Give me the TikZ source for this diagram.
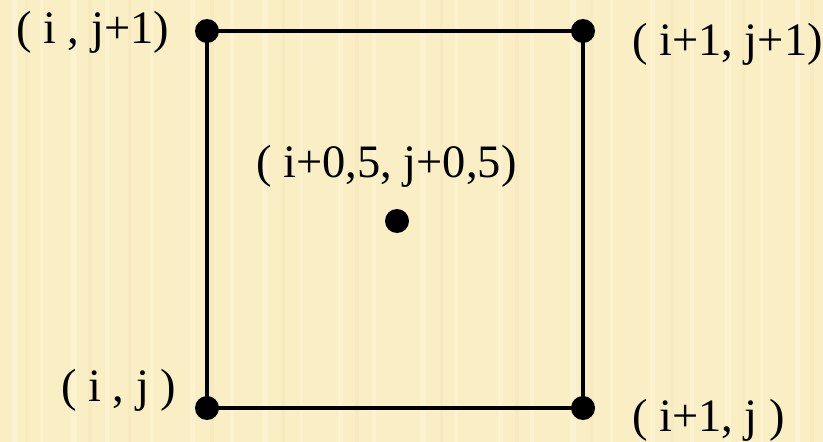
\documentclass[tikz,border=0pt]{standalone}
\usepackage{fontspec}
\setmainfont{Liberation Serif}
\definecolor{bgyellow}{RGB}{250,238,196}
\definecolor{bgstripe}{RGB}{252,242,208}
\definecolor{bgdark}{RGB}{247,234,190}
\begin{document}
\begin{tikzpicture}[x=1pt,y=-1pt,
  dotnode/.style={circle,fill=black,inner sep=0pt,minimum size=24pt},
  lbl/.style={anchor=base west,inner sep=0pt,font=\fontsize{46.5}{56}\selectfont},
  edge/.style={line width=4pt}]
\useasboundingbox (0,0) rectangle (823,442);
\fill[bgyellow] (0,0) rectangle (823,442);
\foreach \x/\w in {12/5,40/3,71/6,105/4,150/3,190/5,230/4,262/6,300/3,338/5,372/4,420/6,455/3,498/5,530/4,570/6,610/3,650/5,690/4,725/6,760/3,795/5}{
  \fill[bgstripe] (\x,0) rectangle ({\x+\w},442);
}
\foreach \x/\w in {25/3,88/4,128/3,210/4,282/3,355/4,440/3,515/4,590/3,670/4,742/3,810/4}{
  \fill[bgdark] (\x,0) rectangle ({\x+\w},442);
}
\node[dotnode] (tl) at (207,31) {};
\node[dotnode] (tr) at (583,31) {};
\node[dotnode] (bl) at (207,408) {};
\node[dotnode] (br) at (583,408) {};
\node[dotnode] (c) at (397,221) {};
\draw[edge] (tl.center) -- (tr.center) -- (br.center) -- (bl.center) -- cycle;
\node[lbl] (ltl) at (16,43) {( i , j+1)};
\node[lbl] (ltr) at (632,55) {( i+1, j+1)};
\node[lbl] (lc) at (256,177) {( i+0,5, j+0,5)};
\node[lbl] (lbl) at (61,401) {( i , j )};
\node[lbl] (lbr) at (632,431) {( i+1, j )};
\end{tikzpicture}
\end{document}
